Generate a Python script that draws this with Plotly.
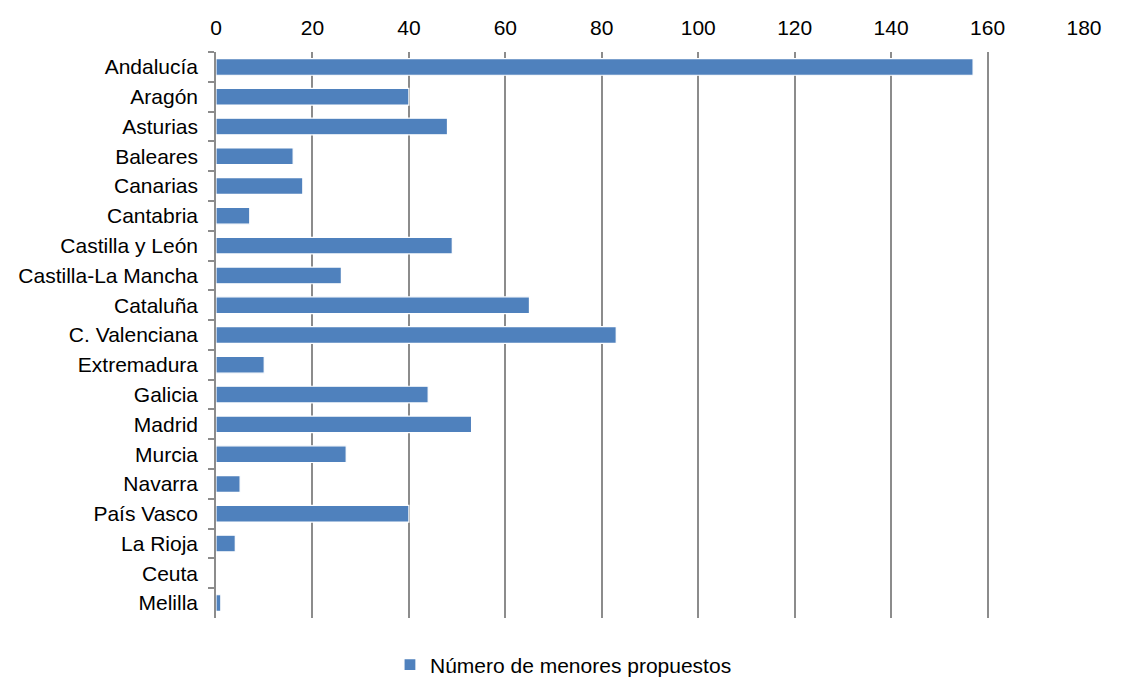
import plotly.graph_objects as go

regions = ["Andalucía", "Aragón", "Asturias", "Baleares", "Canarias", "Cantabria",
           "Castilla y León", "Castilla-La Mancha", "Cataluña", "C. Valenciana",
           "Extremadura", "Galicia", "Madrid", "Murcia", "Navarra", "País Vasco",
           "La Rioja", "Ceuta", "Melilla"]
values = [157, 40, 48, 16, 18, 7, 49, 26, 65, 83, 10, 44, 53, 27, 5, 40, 4, 0, 1]
series_name = "Número de menores propuestos"
x_ticks = [0, 20, 40, 60, 80, 100, 120, 140, 160, 180]

fig = go.Figure()
fig.add_trace(go.Bar(
    y=regions, x=values, orientation="h", name=series_name,
    marker=dict(color="#4F81BD", line=dict(color="white", width=1.2)),
    showlegend=True,
))

fig.update_layout(
    width=1129, height=697,
    margin=dict(l=208, r=53, t=44, b=87, autoexpand=False),
    paper_bgcolor="white", plot_bgcolor="white",
    font=dict(family="Liberation Sans, Arial, sans-serif", size=21, color="#000"),
    bargap=0.44,
    showlegend=True,
    legend=dict(orientation="h", xref="container", x=0.492, xanchor="center",
                yref="container", y=0.0574, yanchor="middle",
                font=dict(size=21), itemwidth=30),
    xaxis=dict(side="top", range=[0, 180], tickvals=x_ticks, showgrid=True,
               gridcolor="#8c8c8c", gridwidth=1.5, zeroline=False, showline=False,
               ticks="", tickfont=dict(size=21), ticklabelstandoff=12, automargin=False),
    yaxis=dict(categoryorder="array", categoryarray=regions, autorange="reversed",
               showline=True, linecolor="#8c8c8c", linewidth=1.5,
               ticks="outside", ticklen=6, tickcolor="#8c8c8c", tickwidth=1.5,
               tickson="boundaries", showgrid=False, tickfont=dict(size=21),
               ticklabelstandoff=12, automargin=False),
)

fig.write_html("out.html")
